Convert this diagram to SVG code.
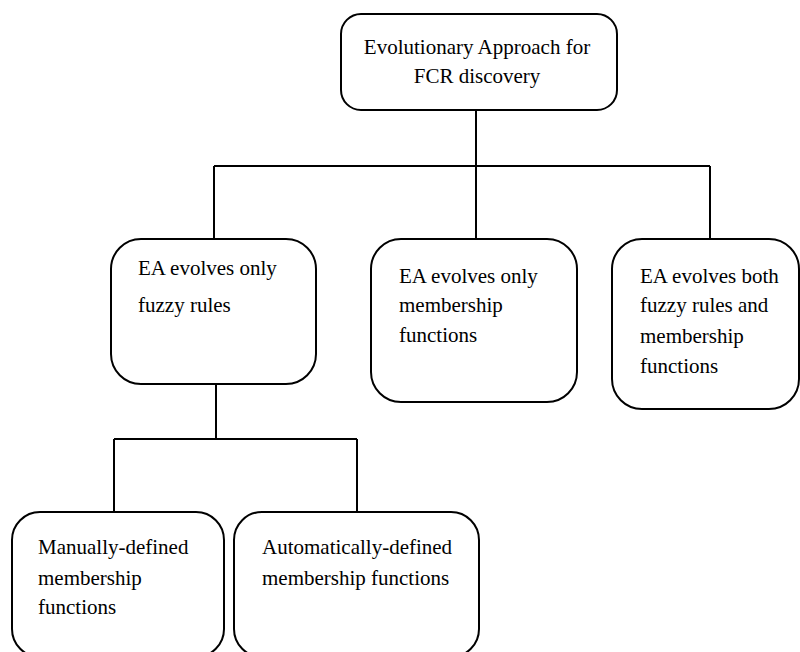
<svg xmlns="http://www.w3.org/2000/svg" width="800" height="652" viewBox="0 0 800 652">
  <style>
    .box { fill: #ffffff; stroke: #000000; stroke-width: 2; }
    .wire { fill: none; stroke: #000000; stroke-width: 2; }
    .lbl { font-size: 21px; fill: #000000; }
  </style>
  <rect width="800" height="652" fill="#ffffff"/>

  <!-- tree connectors -->
  <g id="connectors">
    <path class="wire" d="M476,110 V166 M214,166 H710 M214,166 V239 M476,166 V239 M710,166 V239"/>
    <path class="wire" d="M216,384 V439 M114,439 H357 M114,439 V512 M357,439 V512"/>
  </g>

  <g font-family="Liberation Serif, Tinos, DejaVu Serif, serif">
    <g id="root">
      <rect class="box" x="341" y="14" width="276" height="96" rx="20" ry="20"/>
      <text class="lbl" x="477" y="54" text-anchor="middle">Evolutionary Approach for</text>
      <text class="lbl" x="477" y="83" text-anchor="middle">FCR discovery</text>
    </g>

    <g id="rules-only">
      <rect class="box" x="111" y="239" width="205" height="145" rx="30" ry="30"/>
      <text class="lbl" x="138" y="275">EA evolves only</text>
      <text class="lbl" x="138" y="312">fuzzy rules</text>
    </g>

    <g id="mf-only">
      <rect class="box" x="371" y="239" width="206" height="163" rx="30" ry="30"/>
      <text class="lbl" x="399" y="283">EA evolves only</text>
      <text class="lbl" x="399" y="312">membership</text>
      <text class="lbl" x="399" y="342">functions</text>
    </g>

    <g id="both">
      <rect class="box" x="612" y="239" width="187" height="170" rx="30" ry="30"/>
      <text class="lbl" x="640" y="283">EA evolves both</text>
      <text class="lbl" x="640" y="312">fuzzy rules and</text>
      <text class="lbl" x="640" y="343">membership</text>
      <text class="lbl" x="640" y="373">functions</text>
    </g>

    <g id="manual-mf">
      <rect class="box" x="12" y="512" width="212" height="145" rx="28" ry="28"/>
      <text class="lbl" x="38" y="554">Manually-defined</text>
      <text class="lbl" x="38" y="585">membership</text>
      <text class="lbl" x="38" y="614">functions</text>
    </g>

    <g id="auto-mf">
      <rect class="box" x="234" y="512" width="245" height="145" rx="28" ry="28"/>
      <text class="lbl" x="262" y="554">Automatically-defined</text>
      <text class="lbl" x="262" y="585">membership functions</text>
    </g>
  </g>
</svg>
